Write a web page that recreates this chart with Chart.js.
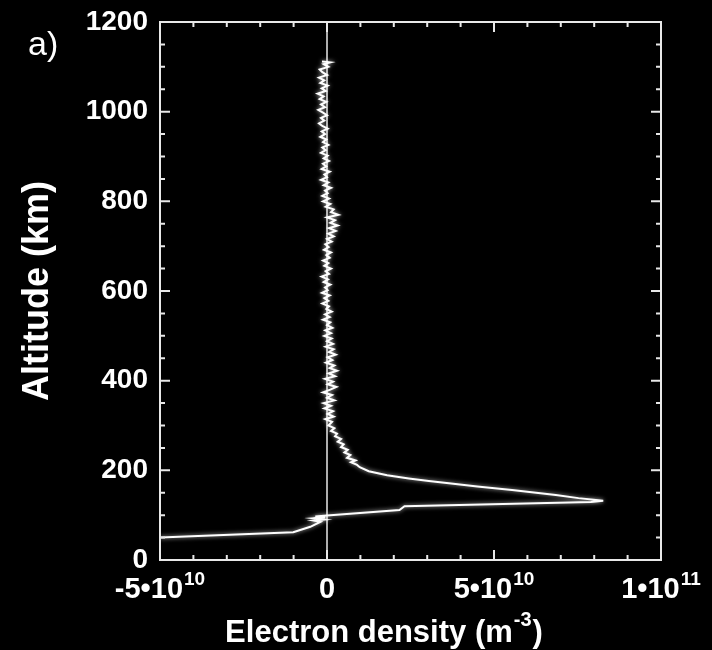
<!DOCTYPE html>
<html>
<head>
<meta charset="utf-8">
<script src="https://cdn.jsdelivr.net/npm/chart.js@4.4.1/dist/chart.umd.min.js"></script>
<style>
  html, body { margin: 0; padding: 0; background: #000; }
  #wrap { width: 712px; height: 650px; }
</style>
</head>
<body>
<div id="wrap"><canvas id="c" width="712" height="650"></canvas></div>
<script>
// ---- Data (density in units of 1e9 m^-3, altitude in km), ordered along the traced profile ----
const altitudeKm = [
  50, 62, 74, 85, 88, 90, 93, 95, 97, 99,
  111.5, 120, 129.5, 132,
  138, 145, 156, 164, 171, 176, 182, 189, 198, 207,
  212, 218, 222, 228, 234, 240, 246, 252, 258, 264, 270, 276, 282, 288, 294, 300,
  308, 314, 320, 326, 332, 338, 344, 350, 356, 362, 368, 374, 380, 386, 392, 398,
  404, 410, 416, 422, 428, 434, 440, 446, 452, 458, 464, 470, 476, 482, 488, 494,
  500, 506, 512, 518, 524, 530, 536, 542, 548, 554, 560, 566, 572, 578, 584, 590,
  596, 602, 608, 614, 620, 626, 632, 638, 644, 650, 656, 662, 668, 674, 680, 686,
  692, 698, 704, 710, 716, 722, 728, 734, 740, 746, 752, 758, 764, 770, 776, 782,
  788, 794, 800, 806, 812, 818, 824, 830, 836, 842, 848, 854, 860, 866, 872, 878,
  884, 890, 896, 902, 908, 914, 920, 926, 932, 938, 944, 950, 956, 962, 968, 974,
  980, 986, 992, 998, 1004, 1010, 1016, 1022, 1028, 1034, 1040, 1046, 1052, 1058, 1064, 1070,
  1076, 1082, 1088, 1094, 1100, 1106, 1110, 1112
];
const densityE9 = [
  -50, -10.1, -5, -2, -4, -1, -4, -0.5, -3.5, 0,
  21.7, 23.2, 79, 82.7,
  75.3, 68.5, 55.4, 45.0, 36.5, 30.5, 24.5, 18.0, 12.5, 9.8,
  9.0, 7.2, 8.5, 6.0, 7.0, 5.2, 6.2, 4.2, 5.0, 3.2, 4.2, 2.4, 3.0, 1.2, 2.2, 0.4,
  1.5, -0.5, 2.0, 0.2, 1.8, -0.8, 1.2, -1.0, 2.2, 0.0, 1.5, -1.2, 1.0, 2.8, 0.2, 1.8,
  -0.6, 2.4, 0.5, 3.0, 0.8, 2.2, -0.3, 1.6, 0.2, 2.6, 0.6, 2.0, -0.4, 1.8, 0.0, 1.4,
  -0.8, 1.2, -0.5, 1.6, 0.0, 1.0, -1.2, 0.8, -0.6, 1.4, -0.2, 0.6, -1.4, 0.4, -0.8, 0.8,
  -1.5, 0.2, -0.6, 1.0, -1.0, 0.3, -1.6, 0.6, -0.4, 1.2, -0.8, 0.4, -1.2, 0.8, -0.2, 1.2,
  -0.9, 0.5, -0.5, 1.4, 0.0, 2.0, 0.4, 2.6, 0.6, 3.2, 1.0, 2.4, 0.0, 3.4, 1.2, 2.0,
  -0.4, 1.0, -1.2, 0.6, -1.4, 0.2, -0.6, 1.2, -1.0, 0.4, -1.8, 0.0, -0.8, 0.8, -1.6, -0.2,
  -1.2, 0.6, -1.0, 0.2, -1.8, -0.4, -1.4, 0.4, -1.2, -0.2, -2.0, -0.6, -1.6, 0.2, -1.4, -2.4,
  -0.8, -1.8, 0.0, -1.2, -2.6, -0.6, -1.8, -0.2, -2.2, -1.0, -2.8, -0.4, -1.6, 0.2, -2.0, -0.8,
  -2.4, 0.0, -1.4, -2.2, 0.4, -1.0, 1.0, -1.5
];

// Axis ranges and tick labels
const xMin = -5e10, xMax = 1e11;
const yMin = 0, yMax = 1200;
const yTickStep = 200;
const xTickValues = [-5e10, 0, 5e10, 1e11];
const xTickMantissa = ['-5\u202210', '0', '5\u202210', '1\u202210'];
const xTickExponent = ['10', '', '10', '11'];
const xTitleMain = 'Electron density (m';
const xTitleSup = '-3';
const xTitleEnd = ')';
const yTitle = 'Altitude (km)';
const panelLabel = 'a)';

const points = altitudeKm.map((a, i) => ({ x: densityE9[i] * 1e9, y: a }));

const FONT = '"Liberation Sans", Arial, Helvetica, sans-serif';

const framePlugin = {
  id: 'frame',
  beforeDatasetsDraw(chart) {
    const { ctx, chartArea: ca, scales } = chart;
    const x0 = scales.x.getPixelForValue(0);
    ctx.save();
    ctx.strokeStyle = '#e8e8e8';
    ctx.lineWidth = 1.5;
    ctx.beginPath();
    ctx.moveTo(x0, ca.top);
    ctx.lineTo(x0, ca.bottom);
    ctx.stroke();
    ctx.restore();
  },
  beforeDatasetDraw(chart) {
    const ctx = chart.ctx;
    ctx.save();
    ctx.shadowColor = 'rgba(255,255,255,0.75)';
    ctx.shadowBlur = 4;
  },
  afterDatasetDraw(chart) {
    chart.ctx.restore();
  },
  afterDraw(chart) {
    const { ctx, chartArea: ca, scales } = chart;
    const sx = scales.x, sy = scales.y;
    ctx.save();
    ctx.strokeStyle = '#e8e8e8';
    ctx.lineWidth = 2;
    ctx.strokeRect(ca.left, ca.top, ca.right - ca.left, ca.bottom - ca.top);

    // inward ticks on all four sides
    ctx.beginPath();
    for (let v = xMin; v <= xMax + 1; v += 1e10) {
      const px = sx.getPixelForValue(v);
      const major = Math.abs(Math.round(v / 5e10) * 5e10 - v) < 1;
      const len = major ? 10 : 5;
      ctx.moveTo(px, ca.bottom); ctx.lineTo(px, ca.bottom - len);
      ctx.moveTo(px, ca.top); ctx.lineTo(px, ca.top + len);
    }
    for (let v = yMin; v <= yMax; v += 50) {
      const py = sy.getPixelForValue(v);
      const major = v % yTickStep === 0;
      const len = major ? 10 : 5;
      ctx.moveTo(ca.left, py); ctx.lineTo(ca.left + len, py);
      ctx.moveTo(ca.right, py); ctx.lineTo(ca.right - len, py);
    }
    ctx.stroke();

    // x tick labels with superscript exponents
    ctx.fillStyle = '#ffffff';
    ctx.textBaseline = 'alphabetic';
    ctx.textAlign = 'left';
    const mainFont = 'bold 29px ' + FONT;
    const supFont = 'bold 19px ' + FONT;
    xTickValues.forEach((v, i) => {
      ctx.font = mainFont;
      const wm = ctx.measureText(xTickMantissa[i]).width;
      ctx.font = supFont;
      const we = xTickExponent[i] ? ctx.measureText(xTickExponent[i]).width + 1 : 0;
      const total = wm + we;
      let left = sx.getPixelForValue(v) - total / 2;
      if (left + total > 706) left = 706 - total;
      ctx.font = mainFont;
      ctx.fillText(xTickMantissa[i], left, 598);
      if (xTickExponent[i]) {
        ctx.font = supFont;
        ctx.fillText(xTickExponent[i], left + wm + 1, 585);
      }
    });

    // x axis title with superscript
    const tFont = 'bold 31px ' + FONT;
    const tsFont = 'bold 20px ' + FONT;
    ctx.font = tFont;
    const w1 = ctx.measureText(xTitleMain).width;
    const w3 = ctx.measureText(xTitleEnd).width;
    ctx.font = tsFont;
    const w2 = ctx.measureText(xTitleSup).width;
    const totalT = w1 + w2 + w3 + 2;
    let tx = 384 - totalT / 2;
    ctx.font = tFont;
    ctx.fillText(xTitleMain, tx, 642);
    ctx.font = tsFont;
    ctx.fillText(xTitleSup, tx + w1 + 1, 626);
    ctx.font = tFont;
    ctx.fillText(xTitleEnd, tx + w1 + w2 + 2, 642);

    // panel label
    ctx.font = '34px ' + FONT;
    ctx.fillText(panelLabel, 28, 55);
    ctx.restore();
  }
};

new Chart(document.getElementById('c'), {
  type: 'scatter',
  data: {
    datasets: [{
      data: points,
      showLine: true,
      borderColor: '#ffffff',
      borderWidth: 2,
      pointRadius: 0,
      tension: 0,
      fill: false
    }]
  },
  options: {
    responsive: false,
    animation: false,
    events: [],
    layout: { padding: { top: 22, right: 51, left: 0, bottom: 0 } },
    plugins: { legend: { display: false }, tooltip: { enabled: false } },
    scales: {
      x: {
        type: 'linear',
        min: xMin, max: xMax,
        grid: { display: false, drawTicks: false },
        border: { display: false },
        ticks: { display: false },
        afterFit(s) { s.height = 90; }
      },
      y: {
        type: 'linear',
        min: yMin, max: yMax,
        grid: { display: false, drawTicks: false },
        border: { display: false },
        ticks: {
          stepSize: yTickStep,
          color: '#ffffff',
          padding: 12,
          font: { family: FONT, size: 28, weight: 'bold', lineHeight: 0.7 },
          callback: (v) => String(v)
        },
        title: {
          display: true,
          text: yTitle,
          color: '#ffffff',
          font: { family: FONT, size: 36, weight: 'bold' },
          padding: { top: 16, bottom: 0 }
        },
        afterFit(s) { s.width = 160; }
      }
    }
  },
  plugins: [framePlugin]
});
</script>
</body>
</html>
